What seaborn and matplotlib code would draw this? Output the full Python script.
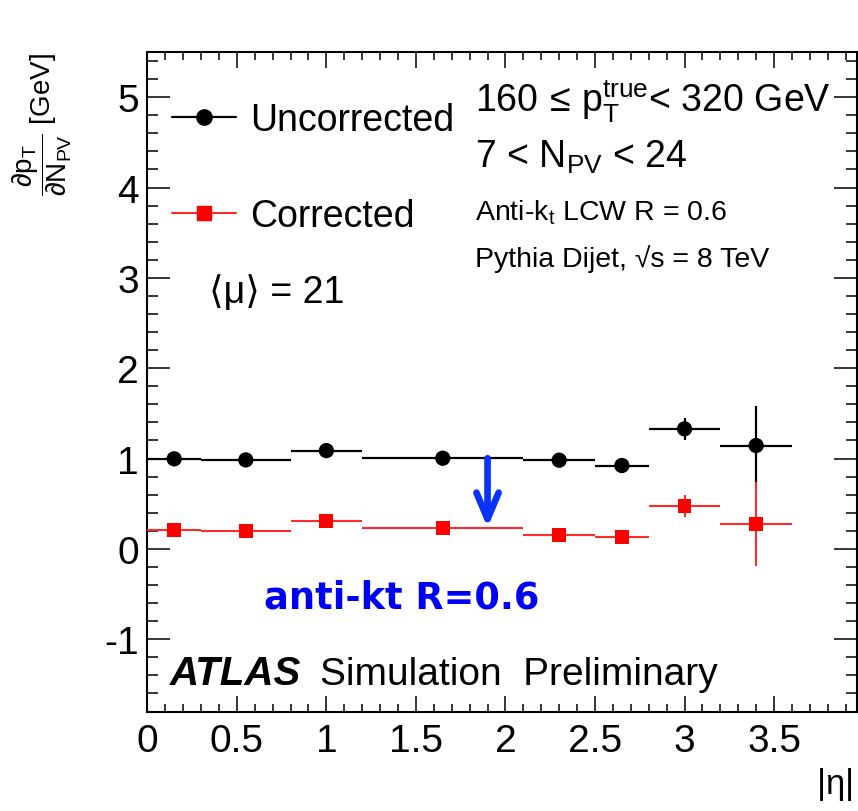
import numpy as np
import pandas as pd
import matplotlib
matplotlib.use("Agg")
import matplotlib.pyplot as plt
import seaborn as sns
from matplotlib.lines import Line2D
from matplotlib.ticker import MultipleLocator

# |eta| binning
eta_lo = [0.0, 0.3, 0.8, 1.2, 2.1, 2.5, 2.8, 3.2]
eta_hi = [0.3, 0.8, 1.2, 2.1, 2.5, 2.8, 3.2, 3.6]

# dpT/dNPV per bin [GeV]
uncorrected = [0.997, 0.985, 1.088, 1.004, 0.982, 0.923, 1.329, 1.144]
uncorrected_err = [0.02, 0.02, 0.02, 0.02, 0.02, 0.03, 0.12, 0.44]
corrected = [0.210, 0.199, 0.310, 0.236, 0.155, 0.136, 0.472, 0.280]
corrected_err = [0.02, 0.02, 0.02, 0.02, 0.02, 0.03, 0.12, 0.465]

x_ticks = [0, 0.5, 1, 1.5, 2, 2.5, 3, 3.5]
y_ticks = [-1, 0, 1, 2, 3, 4, 5]
arrow_eta = 1.9
arrow_bin = 3

sns.set_theme(style="ticks")
plt.rcParams["font.family"] = ["Liberation Sans", "DejaVu Sans"]
plt.rcParams["text.color"] = "black"
plt.rcParams["mathtext.fontset"] = "custom"
plt.rcParams["mathtext.rm"] = "Liberation Sans"
plt.rcParams["mathtext.it"] = "Liberation Sans"
plt.rcParams["mathtext.bf"] = "Liberation Sans:bold"
plt.rcParams["mathtext.sf"] = "Liberation Sans"

lo = np.array(eta_lo)
hi = np.array(eta_hi)
centre = (lo + hi) / 2
half = (hi - lo) / 2

df = pd.DataFrame({
    "eta": np.concatenate([centre, centre]),
    "slope": np.concatenate([uncorrected, corrected]),
    "kind": ["Uncorrected"] * len(centre) + ["Corrected"] * len(centre),
})

fig = plt.figure(figsize=(8.58, 8.12), dpi=100)
ax = fig.add_axes([0.1717, 0.1225, 0.8275, 0.8122])

# bin widths and statistical errors
ax.errorbar(centre, uncorrected, xerr=half, yerr=uncorrected_err, fmt="none",
            ecolor="black", elinewidth=1.6, capsize=0, zorder=2)
ax.errorbar(centre, corrected, xerr=half, yerr=corrected_err, fmt="none",
            ecolor="#ff2a2a", elinewidth=1.5, capsize=0, zorder=3)

sns.scatterplot(data=df[df.kind == "Uncorrected"], x="eta", y="slope", ax=ax,
                marker="o", s=11.0 ** 2, color="black", edgecolor="none",
                zorder=4, legend=False)
sns.scatterplot(data=df[df.kind == "Corrected"], x="eta", y="slope", ax=ax,
                marker="s", s=10.0 ** 2, color="#ff0000", edgecolor="none",
                zorder=5, legend=False)

# pile-up correction arrow
ax.annotate("", xy=(arrow_eta, corrected[arrow_bin]),
            xytext=(arrow_eta, uncorrected[arrow_bin]),
            arrowprops=dict(arrowstyle="->,head_length=0.95,head_width=0.40",
                            lw=4.8, color="#0a32ff", shrinkA=0, shrinkB=0,
                            mutation_scale=20), zorder=6)

ax.set_xlim(0, 3.965)
ax.set_ylim(-1.8, 5.5)
ax.set_xticks(x_ticks)
ax.set_xticklabels([f"{t:g}" for t in x_ticks])
ax.set_yticks(y_ticks)
ax.set_yticklabels([f"{t:g}" for t in y_ticks])
ax.xaxis.set_minor_locator(MultipleLocator(0.1))
ax.yaxis.set_minor_locator(MultipleLocator(0.2))
ax.set_xlabel("")
ax.set_ylabel("")

for s in ax.spines.values():
    s.set_visible(True)
    s.set_linewidth(1.5)
    s.set_color("black")

ax.tick_params(axis="both", which="both", direction="in", top=True, right=True,
               color="black", width=1.1, labelsize=28, labelcolor="black")
ax.tick_params(axis="x", which="major", length=11.5, pad=8)
ax.tick_params(axis="x", which="minor", length=5.8)
ax.tick_params(axis="y", which="major", length=16.5, pad=6)
ax.tick_params(axis="y", which="minor", length=8)

handles = [
    Line2D([], [], color="black", lw=1.6, marker="o", markersize=11),
    Line2D([], [], color="#ff2a2a", lw=1.5, marker="s", markersize=10,
           markerfacecolor="#ff0000", markeredgecolor="#ff0000"),
]
leg = ax.legend(handles, ["Uncorrected", "Corrected"], loc="upper left",
                bbox_to_anchor=(0.035, 0.924), frameon=False, fontsize=27,
                handlelength=1.7, handletextpad=0.37, labelspacing=1.59,
                borderpad=0, borderaxespad=0)
for t in leg.get_texts():
    t.set_color("black")

tr = ax.transAxes
ax.text(0.4615, 0.9105, r"160$\,\leq\,$p$_{\mathrm{T}}^{\mathrm{true}}$< 320 GeV",
        transform=tr, fontsize=27, ha="left", va="baseline")
ax.text(0.4615, 0.8257, r"7 < N$_{\mathrm{PV}}$ < 24",
        transform=tr, fontsize=27, ha="left", va="baseline")
ax.text(0.4615, 0.7468, r"Anti-k$_{\mathrm{t}}$ LCW R = 0.6",
        transform=tr, fontsize=20.5, ha="left", va="baseline")
ax.text(0.4615, 0.6755, "Pythia Dijet, \u221as = 8 TeV",
        transform=tr, fontsize=20.5, ha="left", va="baseline")
ax.text(0.087, 0.6209, "\u27e8\u03bc\u27e9 = 21",
        transform=tr, fontsize=27, ha="left", va="baseline")
ax.text(0.0321, 0.0417, "ATLAS", transform=tr, fontsize=29,
        fontweight="bold", style="italic", ha="left", va="baseline")
ax.text(0.2432, 0.0417, "Simulation  Preliminary", transform=tr, fontsize=28,
        ha="left", va="baseline")
ax.text(1.42, -0.534, "anti-kt R=0.6", fontsize=26.5, fontweight="bold",
        color="#0000f5", ha="center", va="center", family=["DejaVu Sans"])

fig.text(0.993, 0.022, r"|$\eta$|", fontsize=25, ha="right", va="baseline")
fig.text(0.049, 0.935,
         r"$\dfrac{\partial \mathrm{p}_{\mathrm{T}}}{\partial \mathrm{N}_{\mathrm{PV}}}$ [GeV]",
         fontsize=20, rotation=90, ha="center", va="top")

fig.savefig("out.png", dpi=100)
